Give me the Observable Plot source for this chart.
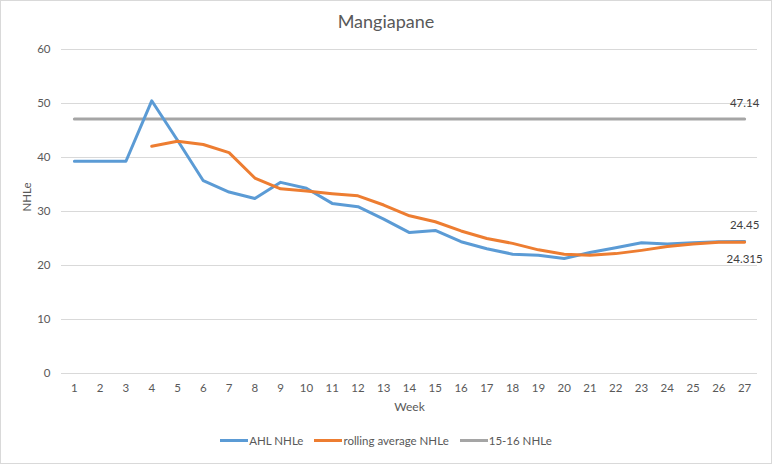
<!DOCTYPE html>
<html>
<head>
<meta charset="utf-8">
<script src="https://cdn.jsdelivr.net/npm/d3@7"></script>
<script src="https://cdn.jsdelivr.net/npm/@observablehq/plot@0.6"></script>
<style>
  html, body { margin: 0; padding: 0; background: #fff; }
  #wrap { position: relative; width: 772px; height: 464px; font-family: Lato, "Noto Sans", sans-serif; color: #595959; box-sizing: border-box; }
  #border { position: absolute; left: 0; top: 0; width: 772px; height: 464px; box-sizing: border-box; border: 1px solid #d9d9d9; pointer-events: none; }
  #title { position: absolute; left: 0; top: 10px; width: 772px; text-align: center; font-size: 18px; color: #595959; }
  #chart { position: absolute; left: 0; top: 0; }
  #legend { position: absolute; left: 0; top: 434px; width: 772px; display: flex; justify-content: center; gap: 11px; font-size: 11.5px; color: #595959; }
  .item { display: flex; align-items: center; }
  .sw { width: 28px; height: 3px; margin-right: 1px; }
</style>
</head>
<body>
<div id="wrap">
  <div id="chart"></div>
  <div id="title">Mangiapane</div>
  <div id="legend"></div>
  <div id="border"></div>
</div>
<script>
const weeks = [1,2,3,4,5,6,7,8,9,10,11,12,13,14,15,16,17,18,19,20,21,22,23,24,25,26,27];
const ahl = [39.3,39.3,39.3,50.5,43.2,35.7,33.6,32.4,35.4,34.3,31.5,30.9,28.6,26.1,26.5,24.4,23.1,22.1,21.9,21.3,22.4,23.3,24.2,24.0,24.2,24.4,24.45];
const rolling = [null,null,null,42.1,43.0,42.4,40.9,36.2,34.2,33.8,33.3,32.9,31.2,29.2,28.1,26.4,25.0,24.1,22.9,22.1,21.9,22.2,22.8,23.5,24.0,24.3,24.315];
const baseline = 47.14;
const yTicks = [0,10,20,30,40,50,60];
const seriesNames = ["AHL NHLe", "rolling average NHLe", "15-16 NHLe"];
const colors = ["#5b9bd5", "#ed7d31", "#a5a5a5"];

const ahlData = weeks.map((w, i) => ({week: w, v: ahl[i]}));
const rollData = weeks.map((w, i) => ({week: w, v: rolling[i]})).filter(d => d.v != null);
const baseData = weeks.map(w => ({week: w, v: baseline}));
const last = weeks.length - 1;

const plot = Plot.plot({
  width: 772,
  height: 464,
  marginLeft: 61,
  marginRight: 15,
  marginTop: 49,
  marginBottom: 91,
  x: {domain: [0.5, 27.5]},
  y: {domain: [0, 60]},
  style: {fontFamily: 'Lato, "Noto Sans", sans-serif', fontSize: "11.5px", color: "#595959", background: "transparent"},
  marks: [
    Plot.ruleY(yTicks, {stroke: "#d9d9d9", strokeWidth: 1}),
    Plot.axisY({ticks: yTicks, tickSize: 0, tickPadding: 11, label: null, fill: "#595959"}),
    Plot.axisX({ticks: weeks, tickSize: 0, tickPadding: 10, label: null, fill: "#595959", tickFormat: d => String(d)}),
    Plot.text(["NHLe"], {frameAnchor: "left", rotate: -90, dx: -34, fill: "#595959"}),
    Plot.text(["Week"], {frameAnchor: "bottom", dy: 37, fill: "#595959", fontSize: 12}),
    Plot.lineY(baseData, {x: "week", y: "v", stroke: colors[2], strokeWidth: 3, strokeLinecap: "round"}),
    Plot.lineY(ahlData, {x: "week", y: "v", stroke: colors[0], strokeWidth: 3, strokeLinejoin: "round", strokeLinecap: "round"}),
    Plot.lineY(rollData, {x: "week", y: "v", stroke: colors[1], strokeWidth: 3, strokeLinejoin: "round", strokeLinecap: "round"}),
    Plot.text([baseData[last]], {x: "week", y: "v", text: d => String(d.v), dy: -16, fill: "#404040"}),
    Plot.text([ahlData[last]], {x: "week", y: "v", text: d => String(d.v), dy: -16, fill: "#404040"}),
    Plot.text([rollData[rollData.length - 1]], {x: "week", y: "v", text: d => String(d.v), dy: 17, fill: "#404040"})
  ]
});
document.getElementById("chart").appendChild(plot);

const legend = document.getElementById("legend");
seriesNames.forEach((name, i) => {
  const item = document.createElement("div");
  item.className = "item";
  const sw = document.createElement("div");
  sw.className = "sw";
  sw.style.background = colors[i];
  const label = document.createElement("span");
  label.textContent = name;
  item.appendChild(sw);
  item.appendChild(label);
  legend.appendChild(item);
});
</script>
</body>
</html>
